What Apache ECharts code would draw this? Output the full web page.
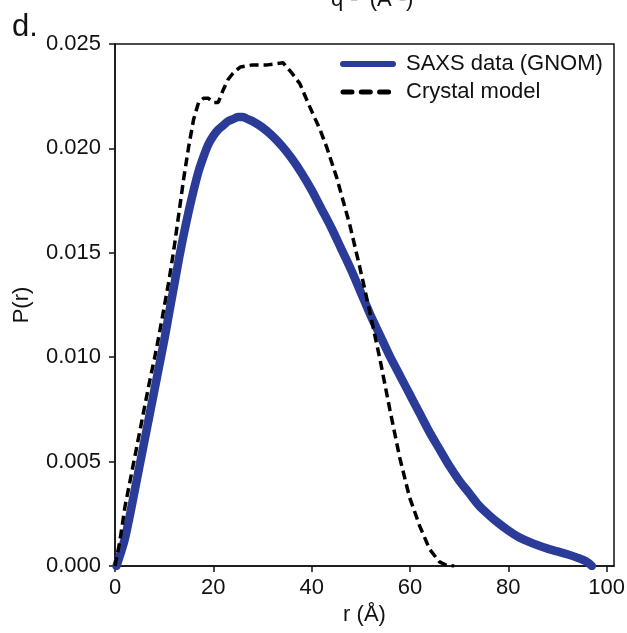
<!DOCTYPE html>
<html>
<head>
<meta charset="utf-8">
<script src="https://cdn.jsdelivr.net/npm/echarts@6/dist/echarts.min.js"></script>
<style>
  html, body { margin: 0; padding: 0; background: #fff; }
  #chart { width: 627px; height: 633px; }
</style>
</head>
<body>
<div id="chart"></div>
<script>
// SAXS data (GNOM) - r in Å, P(r)
var gnomR = [0.3, 1, 2, 3, 4, 5, 6, 7, 8, 9, 10, 11, 12, 13, 14, 15, 16, 17, 18, 19, 20,
  21, 22, 23, 24, 25, 26, 27, 28, 30, 32, 34, 36, 38, 40, 42, 44, 46, 48, 50, 52, 54, 56, 58, 60,
  62, 64, 66, 68, 70, 72, 74, 76, 78, 80, 82, 84, 86, 88, 90, 92, 94, 96, 97];
var gnomP = [0, 0.0005, 0.0013, 0.0024, 0.0036, 0.0048, 0.0060, 0.0072, 0.0084, 0.0096, 0.0108,
  0.0121, 0.0134, 0.0147, 0.0159, 0.0170, 0.0180, 0.0189, 0.0196, 0.0202, 0.0206,
  0.0209, 0.0211, 0.0213, 0.0214, 0.0215, 0.0215, 0.0214, 0.0213, 0.0210, 0.0206, 0.0201,
  0.0195, 0.0188, 0.0180, 0.0171, 0.0162, 0.0152, 0.0142, 0.0131, 0.0120, 0.0110, 0.0100,
  0.0091, 0.0082, 0.0073, 0.0064, 0.0056, 0.0048, 0.0041, 0.0035, 0.0029, 0.00245, 0.00205,
  0.0017, 0.0014, 0.00118, 0.00099, 0.00083, 0.0007, 0.00056, 0.0004, 0.0002, 0];

// Crystal model
var crysR = [0, 1, 2, 3, 4, 5, 6, 7, 8, 9, 10, 11, 12, 13, 14, 15, 16, 17, 18, 19, 20, 21,
  22, 23, 24, 25.5, 28, 31, 34.2, 36, 37.6, 39.6, 41.7, 43, 45.1, 47.8, 49.8, 51.8,
  53.9, 55.9, 57.9, 59.9, 62, 64, 66, 67.5, 69];
var crysP = [0, 0.0012, 0.0028, 0.0040, 0.0052, 0.0064, 0.0076, 0.0088, 0.0099, 0.0111,
  0.0124, 0.0137, 0.0152, 0.0169, 0.0186, 0.0201, 0.0214, 0.0222, 0.0224, 0.0224,
  0.0222, 0.0222, 0.0228, 0.0233, 0.0236, 0.0239, 0.0240, 0.0240, 0.0241, 0.0236,
  0.0231, 0.0220, 0.0209, 0.0201, 0.0186, 0.0163, 0.0143, 0.0122, 0.0099, 0.0075,
  0.0052, 0.0033, 0.0019, 0.0008, 0.0002, 0.00003, 0];

var xTicks = [0, 20, 40, 60, 80, 100];

function pairs(xs, ys) {
  return xs.map(function (x, i) { return [x, ys[i]]; });
}

var font = '"Liberation Sans", Arial, sans-serif';
var ink = '#111';
var blue = '#2a3b98';
var fs = 22;

var chart = echarts.init(document.getElementById('chart'));
chart.setOption({
  animation: false,
  backgroundColor: '#fff',
  textStyle: { fontFamily: font, color: ink },
  grid: {
    left: 115, top: 44, right: 13, bottom: 67,
    containLabel: false, outerBoundsMode: 'none',
    show: true, borderColor: ink, borderWidth: 1.5
  },
  graphic: [
    { type: 'text', left: 12, top: 12, style: { text: 'd.', font: '31px ' + font, fill: ink } },
    // bottom of the axis title of the panel above, cut by the edge
    { type: 'text', x: 331, y: -11, style: { text: 'q\u207B\u00B9  (\u00C5\u207B\u00B9)', font: fs + 'px ' + font, fill: ink } }
  ],
  legend: {
    orient: 'vertical', left: 340, top: 53,
    itemWidth: 50, itemHeight: 14, itemGap: 6, padding: 0,
    itemStyle: { opacity: 0 },
    textStyle: { fontSize: fs, color: ink, fontFamily: font, padding: [0, 0, 0, 8] },
    data: [
      { name: 'SAXS data (GNOM)', lineStyle: { color: blue, width: 6, type: 'solid', cap: 'round' } },
      { name: 'Crystal model', lineStyle: { color: '#000', width: 5, type: [9, 9.3], cap: 'round' } }
    ]
  },
  xAxis: {
    type: 'value', min: 0, max: 101.5,
    name: 'r (\u00C5)', nameLocation: 'middle', nameGap: 34,
    nameTextStyle: { fontSize: fs, color: ink },
    splitLine: { show: false },
    axisLine: { onZero: false, lineStyle: { color: ink, width: 1.5 } },
    axisTick: { customValues: xTicks, length: 6, lineStyle: { color: ink, width: 1.5 } },
    axisLabel: { customValues: xTicks, fontSize: fs, color: ink, margin: 11 }
  },
  yAxis: {
    type: 'value', min: 0, max: 0.025, interval: 0.005,
    name: 'P(r)', nameLocation: 'middle', nameGap: 82,
    nameTextStyle: { fontSize: fs, color: ink },
    splitLine: { show: false },
    axisLine: { show: true, onZero: false, lineStyle: { color: ink, width: 1.5 } },
    axisTick: { show: true, length: 6, lineStyle: { color: ink, width: 1.5 } },
    axisLabel: {
      fontSize: fs, color: ink, margin: 14,
      formatter: function (v) { return v.toFixed(3); }
    }
  },
  series: [
    {
      name: 'SAXS data (GNOM)', type: 'line', symbol: 'none', smooth: 0.3,
      data: pairs(gnomR, gnomP),
      lineStyle: { color: blue, width: 8.5, cap: 'round' },
      itemStyle: { color: blue }
    },
    {
      name: 'Crystal model', type: 'line', symbol: 'none',
      data: pairs(crysR, crysP),
      lineStyle: { color: '#000', width: 3.5, type: [9, 5] },
      itemStyle: { color: '#000' }
    }
  ]
});
</script>
</body>
</html>
